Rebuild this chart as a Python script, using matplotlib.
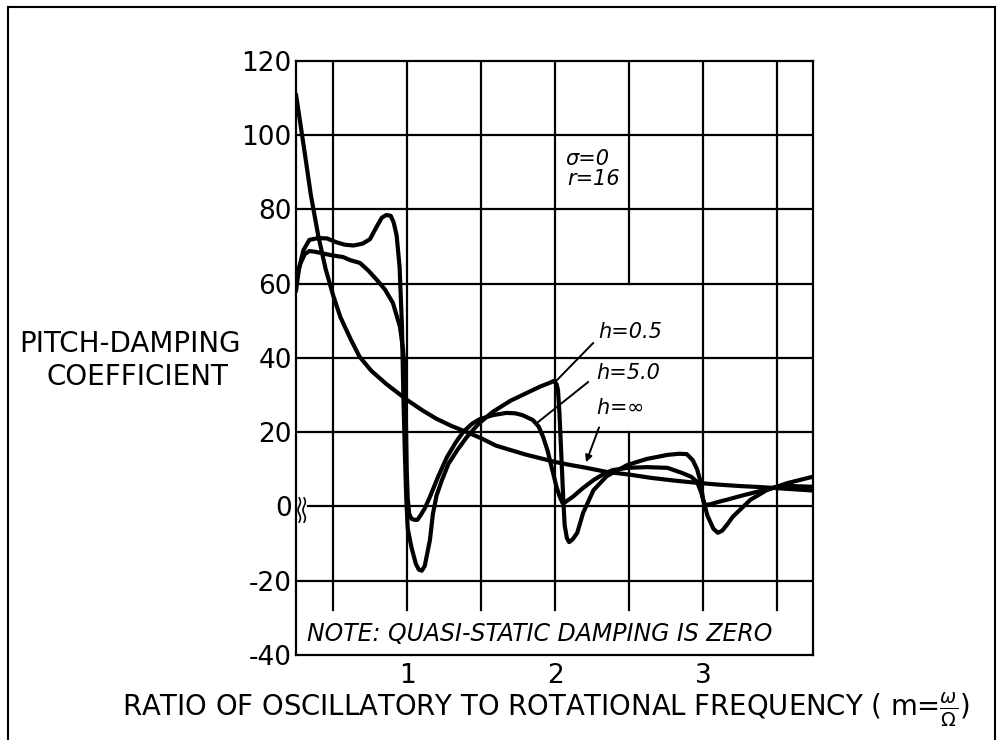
import matplotlib

matplotlib.use("Agg")

import matplotlib.pyplot as plt
import numpy as np
from matplotlib.lines import Line2D

plt.rcParams["font.family"] = ["DejaVu Sans"]
plt.rcParams["axes.unicode_minus"] = False

# frequency ratio m and pitch-damping coefficient for each fill depth h
m_inf = [0.25, 0.28, 0.31, 0.35, 0.40, 0.45, 0.50, 0.55, 0.62, 0.68, 0.76, 0.86,
         1.00, 1.10, 1.20, 1.30, 1.40, 1.50, 1.60, 1.70, 1.80, 1.90, 2.00, 2.10,
         2.20, 2.35, 2.50, 2.65, 2.80, 2.95, 3.10, 3.25, 3.40, 3.55, 3.74]
c_inf = [111, 103, 95, 84, 73, 64, 57, 51, 45, 40.3, 36.5, 33,
         28.7, 26, 23.6, 21.7, 20.1, 18.4, 16.4, 15.2, 14, 13, 12, 11.2,
         10.5, 9.3, 8.6, 7.7, 7.0, 6.4, 5.9, 5.5, 5.2, 4.8, 4.3]

m_h05 = [0.25, 0.27, 0.30, 0.34, 0.40, 0.46, 0.52, 0.58, 0.64, 0.70, 0.75, 0.79,
         0.83, 0.86, 0.89, 0.91, 0.93, 0.95, 0.966, 0.975, 0.985, 0.995, 1.005,
         1.03, 1.06, 1.08, 1.10, 1.12, 1.14, 1.155, 1.175, 1.20, 1.236, 1.28,
         1.34, 1.40, 1.45, 1.49, 1.58, 1.70, 1.81, 1.90, 1.97, 1.99, 2.01, 2.02,
         2.03, 2.045, 2.055, 2.065, 2.08, 2.095, 2.12, 2.15, 2.19, 2.26, 2.35,
         2.49, 2.62, 2.76, 2.84, 2.89, 2.93, 2.96, 2.98, 3.00, 3.03, 3.07, 3.10,
         3.13, 3.17, 3.20, 3.26, 3.32, 3.43, 3.57, 3.74]
c_h05 = [58, 64, 69, 71.8, 72.3, 72.2, 71.2, 70.5, 70.3, 70.8, 72, 75,
         77.8, 78.5, 78.3, 76.5, 73, 64.5, 48.4, 30.6, 15, 2, -6,
         -11, -15.5, -17, -17.3, -16, -12, -9, -2, 3, 7.1, 11.5,
         15.2, 18.5, 20.8, 22.5, 25.5, 28.5, 30.6, 32.3, 33.4, 33.8, 33, 31.4,
         25, 11.7, 2.6, -5, -8.5, -9.6, -8.8, -7.1, -1.7, 4.4, 8.2,
         11.2, 12.8, 13.9, 14.2, 14.1, 12.5, 10, 7.1, 2, -2.5, -6, -7.1,
         -6.5, -4.5, -2.8, -0.5, 1.8, 4.4, 6.3, 8]

m_h50 = [0.25, 0.28, 0.31, 0.34, 0.38, 0.45, 0.50, 0.567, 0.62, 0.682, 0.74,
         0.797, 0.85, 0.905, 0.953, 0.973, 0.986, 0.993, 0.998, 1.005, 1.015,
         1.03, 1.05, 1.07, 1.09, 1.12, 1.155, 1.21, 1.27, 1.33, 1.38, 1.44,
         1.49, 1.58, 1.67, 1.73, 1.78, 1.85, 1.89, 1.92, 1.95, 1.97, 1.99, 2.01,
         2.03, 2.05, 2.07, 2.12, 2.19, 2.26, 2.33, 2.39, 2.49, 2.62, 2.76, 2.86,
         2.92, 2.96, 2.99, 3.01, 3.05, 3.10, 3.16, 3.26, 3.36, 3.50, 3.60, 3.74]
c_h50 = [61, 65.5, 68, 68.8, 68.6, 68, 67.6, 67.2, 66.3, 65.6, 63.5,
         61, 58.5, 54.8, 48.3, 42.2, 36, 22, 10, 2, -2,
         -3.3, -3.6, -3.6, -2.5, -0.5, 2.6, 8, 13.3, 17.3, 20.1, 22.3,
         23.5, 24.6, 25.2, 25.1, 24.6, 23.3, 21.5, 18.7, 15, 11.7, 8.5, 5.3,
         2.8, 1, 1.2, 2.6, 5, 7.1, 8.8, 9.8, 10.4, 10.6, 10.4, 9,
         8, 6.6, 3.5, 0.4, 0.6, 1.2, 1.8, 2.9, 3.9, 5.3, 5.5, 5.3]

y_ticks = [-40, -20, 0, 20, 40, 60, 80, 100, 120]
y_tick_labels = ["-40", "-20", "0", "20", "40", "60", "80", "100", "120"]
x_ticks = [1, 2, 3]
x_tick_labels = ["1", "2", "3"]
x_grid = [0.5, 1.0, 1.5, 2.0, 2.5, 3.0, 3.5]
y_grid = [-20, 0, 20, 40, 60, 80, 100]

X_MIN, X_MAX = 0.25, 3.743
Y_MIN, Y_MAX = -40, 120
GRID_BOTTOM = -28

fig = plt.figure(figsize=(10.02, 7.4), dpi=100)
ax = fig.add_axes([0.2954, 0.1149, 0.5160, 0.8027])
ax.set_xlim(X_MIN, X_MAX)
ax.set_ylim(Y_MIN, Y_MAX)

# grid: vertical lines stop above the note, x=2.5 is broken behind the h labels
grid_kw = dict(color="black", linewidth=1.6, zorder=1)
for gx in x_grid:
    if gx == 2.5:
        ax.plot([gx, gx], [GRID_BOTTOM, 20], **grid_kw)
        ax.plot([gx, gx], [60, Y_MAX], **grid_kw)
    else:
        ax.plot([gx, gx], [GRID_BOTTOM, Y_MAX], **grid_kw)
for gy in y_grid:
    x0 = 0.33 if gy == 0 else X_MIN
    ax.plot([x0, X_MAX], [gy, gy], **grid_kw)

# axis break mark next to zero
t = np.linspace(0, 1, 40)
for off in (0.272, 0.305):
    ax.plot(off + 0.008 * np.sin(t * 3 * np.pi), 2.3 - 6.5 * t,
            color="black", linewidth=1.2, clip_on=False, zorder=3)

curve_kw = dict(color="black", linewidth=3.0, solid_joinstyle="round",
                solid_capstyle="round", zorder=4)
ax.plot(m_inf, c_inf, **curve_kw)
ax.plot(m_h05, c_h05, **curve_kw)
ax.plot(m_h50, c_h50, **curve_kw)

for sp in ax.spines.values():
    sp.set_linewidth(1.6)

ax.set_yticks(y_ticks)
ax.set_yticklabels(y_tick_labels, fontsize=19)
ax.set_xticks(x_ticks)
ax.set_xticklabels(x_tick_labels, fontsize=19)
ax.tick_params(axis="both", length=0)
ax.tick_params(axis="y", pad=3)
ax.tick_params(axis="x", pad=6)

# curve labels with leader lines
label_kw = dict(fontsize=15, style="italic", va="center", ha="left")
ax.text(2.29, 47.0, "h=0.5", **label_kw)
ax.text(2.28, 36.0, "h=5.0", **label_kw)
ax.text(2.28, 26.5, r"h=$\infty$", **label_kw)
ax.plot([2.257, 2.0], [44.0, 33.5], color="black", linewidth=1.4, zorder=5)
ax.plot([2.223, 1.878], [33.5, 22.5], color="black", linewidth=1.4, zorder=5)
ax.annotate("", xy=(2.203, 11.2), xytext=(2.304, 22.0),
            arrowprops=dict(arrowstyle="-|>", color="black", lw=1.4,
                            mutation_scale=10), zorder=5)

ax.text(2.07, 93.6, "σ=0", fontsize=15, style="italic", va="center", ha="left")
ax.text(2.08, 88.3, "r=16", fontsize=15, style="italic", va="center", ha="left")

ax.text(0.325, -34.3, "NOTE: QUASI-STATIC DAMPING IS ZERO", fontsize=17,
        style="italic", va="center", ha="left")

fig.text(0.1297, 0.535, "PITCH-DAMPING", fontsize=20, ha="center", va="center")
fig.text(0.1367, 0.4905, "COEFFICIENT", fontsize=20, ha="center", va="center")
fig.text(0.545, 0.0405,
         r"RATIO OF OSCILLATORY TO ROTATIONAL FREQUENCY ( m=$\frac{\omega}{\Omega}$)",
         fontsize=19.8, ha="center", va="center")

# page frame
for xs, ys in (([0.008, 0.008], [0.0, 0.991]),
               ([0.008, 0.993], [0.991, 0.991]),
               ([0.993, 0.993], [0.0, 0.991])):
    fig.add_artist(Line2D(xs, ys, color="black", linewidth=1.5,
                          transform=fig.transFigure))

fig.savefig("out.png", dpi=100)
